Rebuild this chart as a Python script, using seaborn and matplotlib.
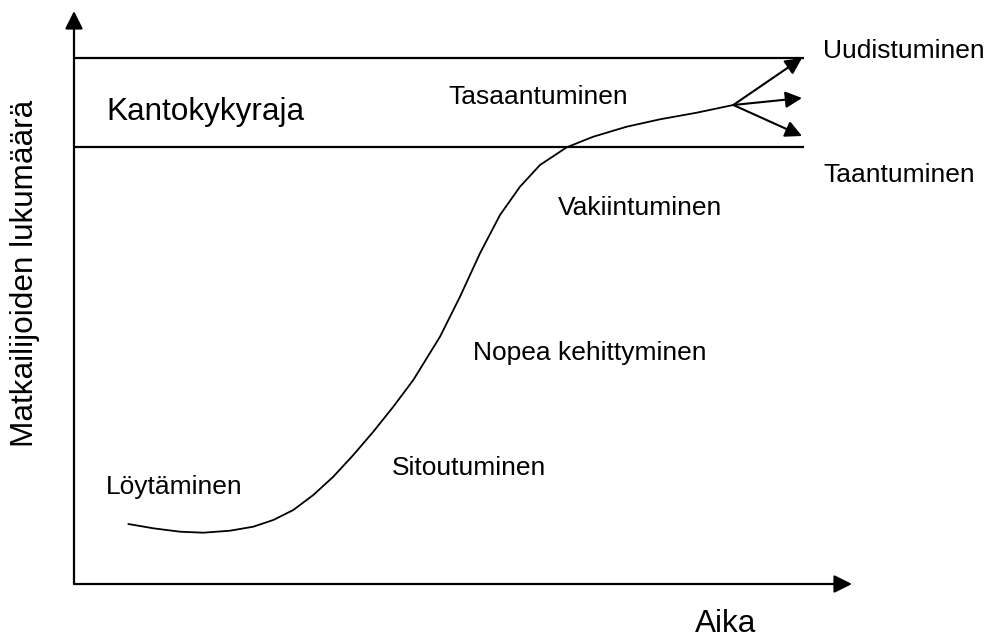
import matplotlib
matplotlib.use("Agg")
import matplotlib.pyplot as plt
import seaborn as sns

# tourism area life cycle (Butler)
time = [5.43, 7.93, 10.6, 12.93, 15.6, 17.93, 19.93, 21.93, 23.93, 25.93,
        27.93, 29.93, 31.93, 33.93, 36.6, 38.6, 40.6, 42.6, 44.6, 46.6,
        49.27, 51.93, 55.27, 58.6, 62.27, 65.93]
visitors = [6.0, 5.57, 5.23, 5.13, 5.33, 5.73, 6.4, 7.4, 8.9, 10.73,
            12.9, 15.23, 17.73, 20.4, 24.73, 28.73, 33.07, 36.9, 39.73, 41.9,
            43.67, 44.73, 45.73, 46.47, 47.13, 47.9]

capacity_low = 43.7
capacity_high = 52.6
band_end = 73.0

branch_start = (65.93, 47.9)
branch_ends = [52.6, 48.6, 44.8]   # uudistuminen / jatkuu / taantuminen
branch_x = 72.8

stage_labels = ["Löytäminen", "Sitoutuminen", "Nopea kehittyminen",
                "Vakiintuminen", "Tasaantuminen"]
stage_pos = [(3.2, 9.0), (31.8, 10.9), (39.9, 22.4), (48.4, 36.9), (37.4, 48.0)]
end_labels = ["Uudistuminen", "Taantuminen"]
end_pos = [(74.9, 52.6), (74.9, 40.2)]

sns.set_style("white")
plt.rcParams["font.family"] = ["Liberation Sans", "DejaVu Sans"]
plt.rcParams["text.color"] = "black"

fig = plt.figure(figsize=(9.89, 6.4), dpi=100)
ax = fig.add_axes([0, 0, 1, 1])
ax.set_xlim(-7.4, 91.5)
ax.set_ylim(-5.6, 58.4)
ax.axis("off")

# axes with arrow heads
axis_arrow = dict(arrowstyle="-|>,head_length=0.4,head_width=0.2",
                  color="black", lw=1.6, shrinkA=0, shrinkB=0,
                  mutation_scale=27)
ax.annotate("", xy=(0, 57.3), xytext=(0, 0), arrowprops=axis_arrow)
ax.annotate("", xy=(77.8, 0), xytext=(0, 0), arrowprops=axis_arrow)

# carrying capacity band
ax.hlines([capacity_high, capacity_low], 0, band_end, color="black", lw=1.6)

# life cycle curve
sns.lineplot(x=time, y=visitors, sort=False, color="black", lw=1.3,
             estimator=None, ax=ax)

# future branches
branch_arrow = dict(arrowstyle="-|>,head_length=0.4,head_width=0.2",
                    color="black", lw=1.5, shrinkA=0, shrinkB=0,
                    mutation_scale=25)
for yend in branch_ends:
    ax.annotate("", xy=(branch_x, yend), xytext=branch_start,
                arrowprops=branch_arrow)

for label, (x, y) in zip(stage_labels, stage_pos):
    ax.text(x, y, label, fontsize=19, color="black", ha="left", va="baseline")
for label, (x, y) in zip(end_labels, end_pos):
    ax.text(x, y, label, fontsize=19, color="black", ha="left", va="baseline")

ax.text(3.2, 46.4, "Kantokykyraja", fontsize=22.7, color="black",
        ha="left", va="baseline")
ax.text(62.1, -4.75, "Aika", fontsize=22.7, color="black",
        ha="left", va="baseline")
ax.text(-4.1, 31.05, "Matkailijoiden lukumäärä", fontsize=22.7, color="black",
        rotation=90, rotation_mode="anchor", ha="center", va="baseline")

fig.savefig("out.png", dpi=100)
